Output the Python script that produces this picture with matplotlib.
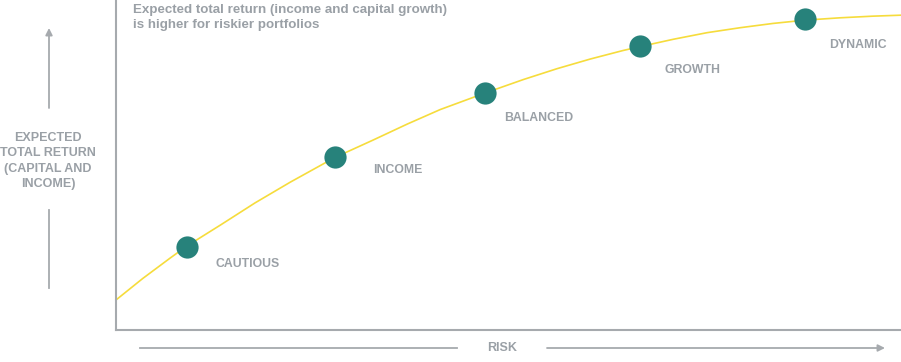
import matplotlib
matplotlib.use("Agg")
import matplotlib.pyplot as plt
from matplotlib.lines import Line2D
from matplotlib.patches import FancyArrowPatch

# Portfolios on the risk / return curve (risk 0-100, return 0-100)
portfolios = ["CAUTIOUS", "INCOME", "BALANCED", "GROWTH", "DYNAMIC"]
port_risk = [9.0, 27.9, 47.0, 66.8, 87.8]
port_return = [25.2, 52.4, 71.8, 86.1, 94.1]

# The curve itself
curve_risk = [0.0, 3.4, 6.9, 9.0, 13.3, 17.7, 22.2, 27.9, 32.7, 37.1, 41.3, 47.0,
              51.9, 56.2, 60.4, 64.6, 66.8, 71.0, 75.3, 79.5, 83.7, 87.8, 92.2,
              96.4, 100.0]
curve_return = [9.1, 15.6, 21.8, 25.4, 31.8, 38.5, 44.8, 52.3, 57.5, 62.4, 66.8,
                71.8, 75.9, 79.2, 82.1, 84.7, 85.9, 88.1, 90.1, 91.6, 92.9, 93.9,
                94.6, 95.1, 95.4]

title = "Expected total return (income and capital growth)\nis higher for riskier portfolios"
y_label = "EXPECTED\nTOTAL RETURN\n(CAPITAL AND\nINCOME)"
x_label = "RISK"

GREY = "#9aa0a6"
AXIS = "#a6aaae"
TEAL = "#27827b"
YELLOW = "#f6dc3c"

# label offsets from each dot, in pixels (right, down)
label_offsets = [(29, 17), (38, 13), (19, 25), (24, 24), (24, 26)]

plt.rcParams["font.family"] = ["Liberation Sans", "DejaVu Sans"]

fig = plt.figure(figsize=(9.01, 3.62), dpi=100)
W, H = 901, 362
ax = fig.add_axes([116 / W, (H - 330) / H, 785 / W, 330 / H])
ax.set_xlim(0, 100)
ax.set_ylim(0, 100)
for s in ("top", "right"):
    ax.spines[s].set_visible(False)
for s in ("left", "bottom"):
    ax.spines[s].set_color(AXIS)
    ax.spines[s].set_linewidth(1.5)
ax.set_xticks([])
ax.set_yticks([])

ax.plot(curve_risk, curve_return, color=YELLOW, lw=1.2, zorder=2, clip_on=False)
ax.plot(port_risk, port_return, "o", color=TEAL, ms=16, mec="none", zorder=3)

for name, x, y, (dx, dy) in zip(portfolios, port_risk, port_return, label_offsets):
    ax.annotate(name, (x, y), xytext=(dx, -dy), textcoords="offset pixels",
                color=GREY, fontsize=8.8, fontweight="bold", va="center", ha="left")

fig.text(133 / W, 1 - 4 / H, title, color=GREY, fontsize=9.6, fontweight="bold",
         va="top", ha="left", linespacing=1.3)

# y axis label with arrow
fig.text(48 / W, 1 - 161 / H, y_label, color=GREY, fontsize=9, fontweight="bold",
         ha="center", va="center", linespacing=1.34)
arrow_kw = dict(arrowstyle="-|>", color=AXIS, lw=1.3, mutation_scale=10, shrinkA=0, shrinkB=0)
fig.add_artist(FancyArrowPatch(
    (49 / W, 1 - 108 / H), (49 / W, 1 - 28 / H), transform=fig.transFigure, **arrow_kw))
fig.add_artist(Line2D([49 / W, 49 / W], [1 - 210 / H, 1 - 288 / H], color=AXIS, lw=1.3))

# x axis label with arrow
fig.text(502 / W, 1 - 348 / H, x_label, color=GREY, fontsize=9, fontweight="bold",
         ha="center", va="center")
fig.add_artist(Line2D([140 / W, 457 / W], [1 - 348 / H, 1 - 348 / H], color=AXIS, lw=1.3))
fig.add_artist(FancyArrowPatch(
    (547 / W, 1 - 348 / H), (885 / W, 1 - 348 / H), transform=fig.transFigure, **arrow_kw))

fig.savefig("out.png", dpi=100)
